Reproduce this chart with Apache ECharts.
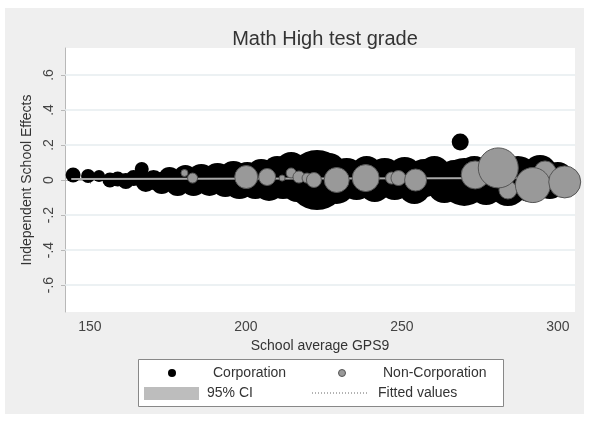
<!DOCTYPE html>
<html>
<head>
<meta charset="utf-8">
<script src="https://cdn.jsdelivr.net/npm/echarts@6/dist/echarts.min.js"></script>
<style>html,body{margin:0;padding:0;background:#fff}#c{width:589px;height:423px}</style>
</head>
<body>
<div id="c"></div>
<script>
// School average GPS9 (x), independent school effect (y), number of students (n)
const corpX = [144.6,149.4,152.9,156.4,158.9,161.5,164.0,166.6,167.9,170.4,173.0,175.5,178.1,180.6,183.2,185.7,188.3,190.9,193.4,196.0,197.9,200.4,203.0,204.9,207.4,210.0,211.9,214.5,216.4,218.9,222.8,226.6,229.1,232.3,235.5,238.7,241.3,244.5,247.7,250.9,254.0,257.2,260.4,263.6,266.8,270.0,273.2,277.0,280.2,284.0,287.2,291.1,294.3,297.4,300.0,301.9,268.7];
const corpY = [0.029,0.023,0.023,0.000,0.006,-0.006,0.011,0.063,-0.011,0.000,-0.017,0.011,-0.023,0.017,-0.017,0.011,-0.011,0.011,-0.017,0.023,-0.023,0.011,-0.017,0.034,-0.034,0.057,-0.011,0.069,-0.034,0.000,0.000,0.057,-0.034,0.023,-0.017,0.046,-0.034,0.023,-0.017,0.034,-0.046,0.011,0.046,-0.034,0.011,-0.011,0.034,-0.046,0.011,-0.034,0.023,-0.023,0.046,-0.023,0.011,0.000,0.217];
const corpN = [56,49,36,56,56,64,64,49,100,100,121,121,144,144,169,196,196,225,196,225,225,256,256,225,225,196,289,256,256,324,900,289,324,324,289,256,256,324,289,289,256,361,256,289,324,576,324,289,400,400,400,324,289,225,256,169,72];

const nonX = [180.3,182.9,200.1,206.8,211.6,214.5,217.0,219.6,221.8,229.1,238.4,246.7,248.9,254.4,273.5,284.0,280.9,295.9,292.0,302.2];
const nonY = [0.040,0.011,0.017,0.017,0.011,0.040,0.017,0.011,0.000,0.000,0.011,0.011,0.011,0.000,0.029,-0.057,0.069,0.046,-0.029,-0.011];
const nonN = [12,25,132,72,9,25,36,25,56,156,182,36,56,121,196,81,400,121,306,256];

// Fitted values (95% CI is very narrow)
const fitX = [144.0, 303.0];
const fitY = [0.006, 0.011];

const yTicks = [-0.6,-0.4,-0.2,0,0.2,0.4,0.6];
const xTicks = [150,200,250,300];

const corpData = corpX.map((x,i)=>[x,corpY[i],corpN[i]]);
const nonData = nonX.map((x,i)=>[x,nonY[i],nonN[i]]);
const fitData = fitX.map((x,i)=>[x,fitY[i]]);

const FONT = 'Arial, "Liberation Sans", sans-serif';
const sizeFn = v => 2*Math.sqrt(v[2]);
const yFmt = v => v===0 ? '0' : (v<0?'-':'') + Math.abs(v).toFixed(1).replace(/^0/,'');

const chart = echarts.init(document.getElementById('c'), null, {renderer:'canvas'});
chart.setOption({
  backgroundColor:'#ffffff',
  animation:false,
  title:{text:'Math High test grade', left:320, top:24, textAlign:'center',
    textStyle:{fontFamily:FONT, fontSize:20, fontWeight:'normal', color:'#333'}},
  grid:{left:65, right:14, top:48, bottom:111, show:true, backgroundColor:'#ffffff', borderWidth:0},
  xAxis:{type:'value', min:142, max:305.5,
    name:'School average GPS9', nameLocation:'middle', nameGap:24,
    nameTextStyle:{fontFamily:FONT, fontSize:14, color:'#333'},
    axisLine:{show:true, lineStyle:{color:'#b8b8b8', width:1}},
    axisTick:{show:true, customValues:xTicks, length:4, lineStyle:{color:'#b8b8b8'}},
    axisLabel:{customValues:xTicks, fontFamily:FONT, fontSize:14, color:'#444', margin:8},
    splitLine:{show:false}},
  yAxis:{type:'value', min:-0.754, max:0.754,
    name:'Independent School Effects', nameLocation:'middle', nameGap:27, nameRotate:90,
    nameTextStyle:{fontFamily:FONT, fontSize:14, color:'#333'},
    axisLine:{show:true, lineStyle:{color:'#b8b8b8', width:1}},
    axisTick:{show:true, customValues:yTicks, length:4, lineStyle:{color:'#b8b8b8'}},
    axisLabel:{customValues:yTicks, rotate:90, formatter:yFmt, fontFamily:FONT, fontSize:14, color:'#444', margin:9},
    splitLine:{show:false}},
  series:[
    {name:'Corporation', type:'scatter', data:corpData, symbolSize:sizeFn,
      itemStyle:{color:'#000000', opacity:1}, z:2,
      markLine:{silent:true, symbol:'none', label:{show:false}, z:1,
        lineStyle:{color:'#e6ecef', width:1.5, type:'solid'},
        data: yTicks.filter(v=>v!==0).map(v=>({yAxis:v}))}},
    {name:'Fitted values', type:'line', data:fitData, showSymbol:false,
      lineStyle:{color:'#a8a8a8', width:2}, z:3},
    {name:'Non-Corporation', type:'scatter', data:nonData, symbolSize:sizeFn,
      itemStyle:{color:'#999999', borderColor:'#555555', borderWidth:1, opacity:1}, z:4}
  ],
  graphic:[
    {type:'rect', z:-100, silent:true, shape:{x:5,y:8,width:579,height:406}, style:{fill:'#efefef'}},
    {type:'group', z:100, children:[
      {type:'rect', shape:{x:138.5,y:359.5,width:365,height:47}, style:{fill:'#ffffff', stroke:'#888', lineWidth:1}},
      {type:'circle', shape:{cx:172,cy:373,r:4}, style:{fill:'#000'}},
      {type:'text', style:{x:213,y:373,text:'Corporation', font:'14px '+FONT, fill:'#333', textVerticalAlign:'middle'}},
      {type:'circle', shape:{cx:342,cy:373,r:3.5}, style:{fill:'#999', stroke:'#555', lineWidth:1}},
      {type:'text', style:{x:383,y:373,text:'Non-Corporation', font:'14px '+FONT, fill:'#333', textVerticalAlign:'middle'}},
      {type:'rect', shape:{x:144,y:387,width:55,height:13}, style:{fill:'#bdbdbd'}},
      {type:'text', style:{x:207,y:393,text:'95% CI', font:'14px '+FONT, fill:'#333', textVerticalAlign:'middle'}},
      {type:'line', shape:{x1:312,y1:393,x2:368,y2:393}, style:{stroke:'#666', lineWidth:1, lineDash:[1,2]}},
      {type:'text', style:{x:378,y:393,text:'Fitted values', font:'14px '+FONT, fill:'#333', textVerticalAlign:'middle'}}
    ]}
  ]
});
</script>
</body>
</html>
